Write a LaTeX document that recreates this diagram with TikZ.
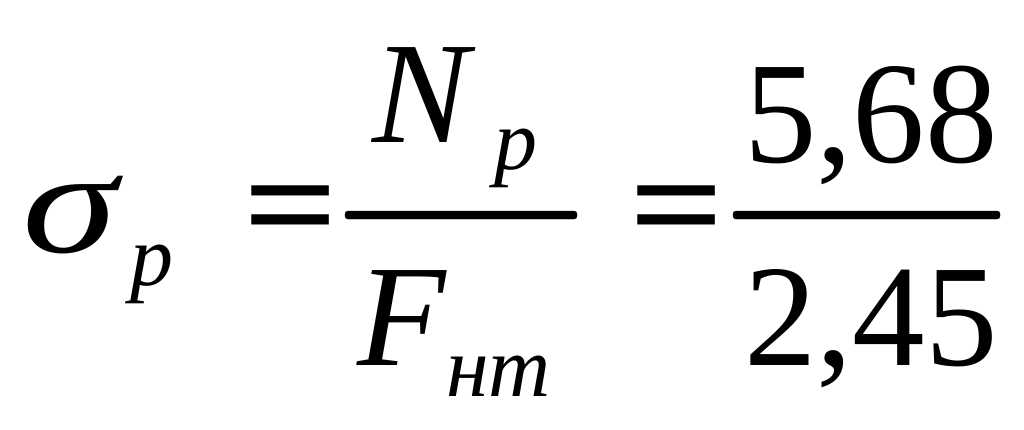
\documentclass[tikz,border=0pt]{standalone}
\usepackage{fontspec}
\setmainfont{Liberation Serif}
\usetikzlibrary{positioning}

\tikzset{
  big/.style={inner sep=0pt, anchor=base west, font=\fontsize{145}{145}\selectfont},
  bigit/.style={big, font=\fontsize{145}{145}\selectfont\itshape},
  sub/.style={inner sep=0pt, anchor=base west, font=\fontsize{86}{86}\selectfont\itshape},
  eqsign/.style={big, font=\fontsize{145}{145}\selectfont\bfseries, xscale=1.15},
  bar/.style={fill=black, rounded corners=3pt}
}

\begin{document}
\begin{tikzpicture}[x=1pt,y=-1pt]
\useasboundingbox (0,0) rectangle (1024,429);

% left side
\node[bigit, xscale=1.3, font=\fontsize{148}{148}\selectfont\itshape] (sigma) at (22,252) {σ};
\node[sub] (sp) at (130,285) {p};
\node[eqsign] (eq1) at (243,253) {=};

% first fraction
\node[bigit] (N) at (372,142) {N};
\node[sub] (np) at (494,169) {p};
\draw[bar] (345,211) rectangle (577,219);
\node[bigit] (F) at (357,365) {F};
\node[sub] (fnt) at (446,396) {нт};

\node[eqsign] (eq2) at (629,253) {=};

% second fraction
\node[big] (num) at (744,162) {5,68};
\draw[bar] (733,211) rectangle (1000,219);
\node[big] (den) at (744,365) {2,45};
\end{tikzpicture}
\end{document}
